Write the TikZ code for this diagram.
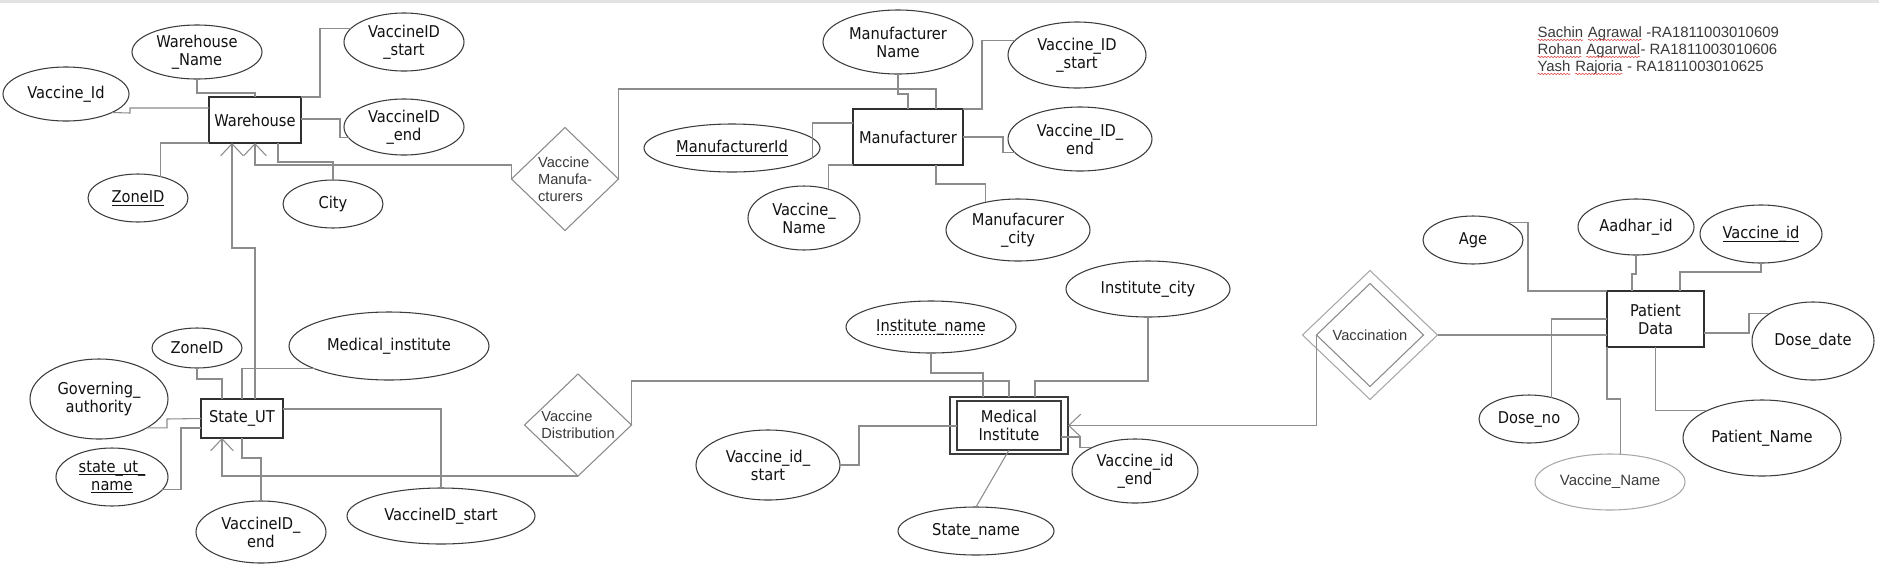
\documentclass[tikz,border=0pt]{standalone}
\usepackage{fontspec}
\usetikzlibrary{shapes.geometric,arrows.meta,decorations.pathmorphing}
\IfFontExistsTF{DejaVu Sans Condensed}{\newfontfamily\tahomaf{DejaVu Sans Condensed}}{\newfontfamily\tahomaf[FakeStretch=0.9]{DejaVu Sans}}
\newfontfamily\arialf{Liberation Sans}
\newcommand\mainf{\tahomaf\fontsize{12.2}{13.5}\selectfont}
\newcommand\relf{\arialf\fontsize{11}{12.6}\selectfont}
\newcommand\authf{\arialf\fontsize{11.2}{12.75}\selectfont}
\definecolor{linegray}{HTML}{8C8C8C}
\definecolor{ellgray}{HTML}{3C3C3C}
\definecolor{entgray}{HTML}{303030}
\definecolor{relgray}{HTML}{8A8A8A}
\definecolor{vgray}{HTML}{A8A8A8}
\definecolor{textc}{HTML}{111111}
\definecolor{dtext}{HTML}{3A3A3A}
\definecolor{squig}{HTML}{E05050}
\definecolor{band}{HTML}{E3E3E3}
\newcommand\ulx[1]{\leavevmode\setbox0\hbox{#1}\rlap{\rule[-2.4pt]{\wd0}{0.65pt}}\box0}
\newcommand\dulx[1]{\leavevmode\setbox0\hbox{#1}\rlap{\raisebox{-2.4pt}{\hbox to \wd0{\leaders\hbox to 3pt{\hss\rule{1.7pt}{0.6pt}\hss}\hfill}}}\box0}
\newcommand\redsq[1]{\tikz[baseline=(ulb.base)]{\node[shape=rectangle,draw=none,fill=none,minimum width=0pt,minimum height=0pt,inner sep=0pt,outer sep=0pt] (ulb) {#1}; \draw[line width=0.45pt,squig,decorate,decoration={snake,amplitude=0.55pt,segment length=2.4pt}] ([yshift=-2.2pt]ulb.base west) -- ([yshift=-2.2pt]ulb.base east);}}
\begin{document}
\begin{tikzpicture}[x=0.75pt,y=-0.75pt,
  conn/.style={draw=linegray, line width=0.8pt},
  arr/.style={-{Straight Barb[length=9pt,width=17pt]}},
  attr/.style 2 args={ellipse, draw=ellgray, line width=0.8pt, minimum width=#1*1.5pt, minimum height=#2*1.5pt, inner sep=0pt, outer sep=0pt, font=\mainf, align=center, text=textc},
  ent/.style 2 args={rectangle, draw=entgray, line width=0.9pt, minimum width=#1*0.75pt, minimum height=#2*0.75pt, inner sep=0pt, outer sep=0pt, font=\mainf, align=center, text=textc},
  rel/.style 2 args={diamond, draw=relgray, line width=0.8pt, minimum width=#1*0.75pt, minimum height=#2*0.75pt, inner sep=0pt, outer sep=0pt},
  reltext/.style={font=\relf, text=dtext, align=left, inner sep=0pt}
]
\useasboundingbox (0,0) rectangle (1879,569);
\fill[band] (0,0) rectangle (1879,3);

% Warehouse
\node[ent={92}{46}] (wh) at (255,120) {Warehouse};
\node[attr={65}{27}] (wn) at (197,52) {Warehouse\\\_Name};
\node[attr={60}{29}] (wvs) at (404,42) {VaccineID\\\_start};
\node[attr={63}{27}] (wvi) at (66,94) {Vaccine\_Id};
\node[attr={60}{28}] (wve) at (404,127) {VaccineID\\\_end};
\node[attr={50}{24}] (wz) at (138,198) {\ulx{ZoneID}};
\node[attr={50}{24}] (wc) at (333,204) {City};

% Vaccine Manufacturers
\node[rel={107}{103}, label={[reltext]center:Vaccine\\Manufa-\\cturers}] (vm) at (565,179) {};

% Manufacturer
\node[ent={110}{56}] (mf) at (908,137) {Manufacturer};
\node[attr={75}{32}] (mn) at (898,42) {Manufacturer\\Name};
\node[attr={69}{33}] (mvs) at (1077,55) {Vaccine\_ID\\\_start};
\node[attr={72}{32}] (mve) at (1080,139) {Vaccine\_ID\_\\end};
\node[attr={88}{24}] (mid) at (732,148) {\ulx{ManufacturerId}};
\node[attr={56}{32}] (mvn) at (804,218) {Vaccine\_\\Name};
\node[attr={72}{31}] (mc) at (1018,230) {Manufacurer\\\_city};

% State_UT
\node[ent={82}{39}] (st) at (242,418.5) {State\_UT};
\node[attr={45}{20}] (sz) at (197,348) {ZoneID};
\node[attr={69}{40}] (sg) at (99,399) {Governing\_\\authority};
\node[attr={56}{29}] (ssn) at (112,477) {\ulx{state\_ut\_}\\\ulx{name}};
\node[attr={100}{34}] (smi) at (389,346) {Medical\_institute};
\node[attr={65}{31}] (sve) at (261,532) {VaccineID\_\\end};
\node[attr={94}{28}] (svs) at (441,516) {VaccineID\_start};

% Vaccine Distribution
\node[rel={107}{102}, label={[reltext]center:Vaccine\\Distribution}] (vd) at (578,425) {};

% Medical Institute
\node[ent={118}{57}, draw=ellgray] (mio) at (1009,425.5) {};
\node[ent={104}{49}, draw=ellgray] (mi) at (1009,425.5) {Medical\\Institute};
\node[attr={85}{26}] (min) at (931,327) {\dulx{Institute\_name}};
\node[attr={82}{28}] (mic) at (1148,289) {Institute\_city};
\node[attr={72}{35}] (mis) at (768,465) {Vaccine\_id\_\\start};
\node[attr={63}{32}] (mie) at (1135,471) {Vaccine\_id\\\_end};
\node[attr={78}{24}] (msn) at (976,531) {State\_name};

% Vaccination
\node[rel={135}{129}, draw=vgray] (vout) at (1370,335) {};
\node[rel={107}{103}, label={[reltext]center:Vaccination}] (vin) at (1370,335) {};

% Patient Data
\node[ent={97}{56}] (pd) at (1655.5,319) {Patient\\Data};
\node[attr={50}{24}] (age) at (1473,240) {Age};
\node[attr={58}{28}] (aad) at (1636,227) {Aadhar\_id};
\node[attr={61}{29}] (pvi) at (1761,234) {\ulx{Vaccine\_id}};
\node[attr={61}{39}] (dd) at (1813,341) {Dose\_date};
\node[attr={79}{38}] (pn) at (1762,438) {Patient\_Name};
\node[attr={50}{24}] (dn) at (1529,419) {Dose\_no};
\node[attr={75}{28}, draw=vgray, font=\authf, text=dtext] (pvn) at (1610,482) {Vaccine\_Name};

% Authors
\node[anchor=base west, font=\authf, text=dtext, inner sep=0pt] (au1) at (1537,37) {\redsq{Sachin} \redsq{Agrawal} -RA1811003010609};
\node[anchor=base west, font=\authf, text=dtext, inner sep=0pt] (au2) at (1537,54) {\redsq{Rohan} \redsq{Agarwal}- RA1811003010606};
\node[anchor=base west, font=\authf, text=dtext, inner sep=0pt] (au3) at (1537,71) {\redsq{Yash} \redsq{Rajoria} - RA1811003010625};

% Warehouse connectors
\draw[conn] (wn.south) |- (255,93) -- (wh.north);
\draw[conn] (wh.north east) -- (320,97) |- (wvs.166);
\draw[conn] (wvi.-22) -- (130,113) -- (130,108) -- (wh.west |- 0,108);
\draw[conn] (wh.east |- 0,119) -- (340,119) |- (wve.191);
\draw[conn] (wz.44) |- (wh.south west);
\draw[conn] (wc.north) |- (278,162) -- (wh.south -| 278,0);
\draw[conn,arr] (vm.west) |- (255,165) -- (wh.south);
\draw[conn,arr] (st.north -| 255,0) -- (255,248) -- (232,248) -- (wh.south -| 232,0);

% Manufacturer connectors
\draw[conn] (vm.east) |- (936,89) -- (mf.north -| 936,0);
\draw[conn] (mn.south) |- (908,94) -- (mf.north);
\draw[conn] (mf.north east) -- (982,109) |- (mvs.167);
\draw[conn] (mf.east) -- (1003,137) |- (mve.192);
\draw[conn] (mid.-7) |- (mf.west |- 0,123);
\draw[conn] (mf.south west) -| (mvn.49);
\draw[conn] (mf.south -| 936,0) -- (936,184) -| (mc.140);

% State connectors
\draw[conn] (sz.south) |- (222,379) -- (st.north -| 222,0);
\draw[conn] (smi.197) -| (st.north);
\draw[conn] (sg.-31) -| (167,419) -- (st.west);
\draw[conn] (ssn.-14) -| (181,428) -- (st.west |- 0,428);
\draw[conn] (st.east |- 0,409) -| (svs.north);
\draw[conn] (st.south) -- (242,458) -| (sve.north);
\draw[conn,arr] (vd.south) -| (st.south -| 222,0);
\draw[conn] (vd.east) |- (1009,381) -- (mio.north);

% Medical Institute connectors
\draw[conn] (min.south) |- (983,373) -- (mio.north -| 983,0);
\draw[conn] (mic.south) |- (1035,381) -- (mio.north -| 1035,0);
\draw[conn] (mis.east) -| (859,426) -- (mi.west |- 0,426);
\draw[conn] (mi.south) -- (msn.north);
\draw[conn] (mi.east |- 0,437) -- (1080,437) |- (mie.152);
\draw[conn,arr] (vin.west) |- (mio.east);

% Patient connectors
\draw[conn] (vout.east) -- (pd.west |- vout.east);
\draw[conn] (age.26) -| (1528,291) -- (pd.north west);
\draw[conn] (aad.south) |- (1632,274) -- (pd.north -| 1632,0);
\draw[conn] (pvi.south) |- (1680,272) -- (pd.north -| 1680,0);
\draw[conn] (pd.east |- 0,333) -- (1749,333) |- (dd.148);
\draw[conn] (pd.south) |- (pn.154);
\draw[conn] (dn.44) |- (pd.west);
\draw[conn] (pd.south west) -- (1607,399) -| (pvn.70);
\end{tikzpicture}
\end{document}
